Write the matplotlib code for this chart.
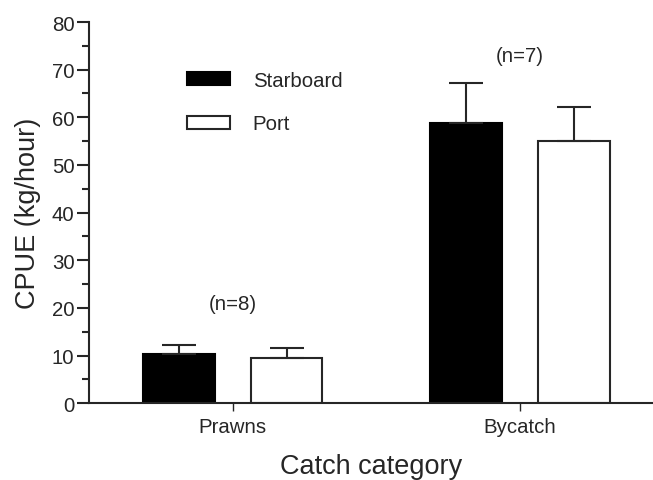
import matplotlib.pyplot as plt
import numpy as np

plt.rcParams["font.family"] = ["Liberation Sans", "DejaVu Sans"]

categories = ["Prawns", "Bycatch"]
series = ["Starboard", "Port"]
starboard = [10.4, 58.9]
starboard_err = [1.8, 8.4]
port = [9.6, 55.0]
port_err = [1.9, 7.1]
sample_sizes = ["(n=8)", "(n=7)"]
label_y = [20.9, 72.9]

ink = "#262626"
fig = plt.figure(figsize=(6.53, 4.81), dpi=100)
ax = fig.add_axes([89 / 653, 1 - 404.3 / 481, 1 - 89 / 653, (404.3 - 23) / 481])

x = np.arange(len(categories))
width = 0.25
off = 0.1875
err_kw = dict(ecolor=ink, elinewidth=1.5, capsize=12.5, capthick=1.5)
ax.bar(x - off, starboard, width, color="black", edgecolor="black", linewidth=1.5,
       yerr=[np.zeros(2), starboard_err], error_kw=err_kw, label=series[0], zorder=2)
ax.bar(x + off, port, width, color="white", edgecolor=ink, linewidth=1.5,
       yerr=[np.zeros(2), port_err], error_kw=err_kw, label=series[1], zorder=2)

for xi, txt, yy in zip(x, sample_sizes, label_y):
    ax.text(xi, yy, txt, ha="center", va="center", fontsize=14.7, color=ink)

ax.set_xlim(-0.5, 1.463)
ax.set_ylim(0, 80)
ax.set_yticks(np.arange(0, 81, 10))
ax.set_yticks(np.arange(5, 80, 10), minor=True)
ax.set_xticks(x)
ax.set_xticklabels(categories)
ax.tick_params(axis="y", which="major", length=8.5, width=1.5, color=ink, labelsize=14.7,
               labelcolor=ink, pad=2)
ax.tick_params(axis="y", which="minor", length=5, width=1.5, color=ink)
ax.tick_params(axis="x", length=6, width=1.0, color=ink, labelsize=14.7, labelcolor=ink, pad=4)

for side in ("top", "right"):
    ax.spines[side].set_visible(False)
for side in ("left", "bottom"):
    ax.spines[side].set_linewidth(1.5)
    ax.spines[side].set_color(ink)

ax.set_ylabel("CPUE (kg/hour)", fontsize=19.5, color=ink, labelpad=8)
ax.set_xlabel("Catch category", fontsize=19.5, color=ink, labelpad=12)

leg = ax.legend(loc="upper left", bbox_to_anchor=(187.3 / 653, 1 - 72 / 481),
                bbox_transform=fig.transFigure, frameon=False, fontsize=14.7,
                handlelength=2.1, handleheight=0.6, handletextpad=1.1,
                labelspacing=1.2, borderpad=0, borderaxespad=0)
for t in leg.get_texts():
    t.set_color(ink)

fig.savefig("out.png", dpi=100)
